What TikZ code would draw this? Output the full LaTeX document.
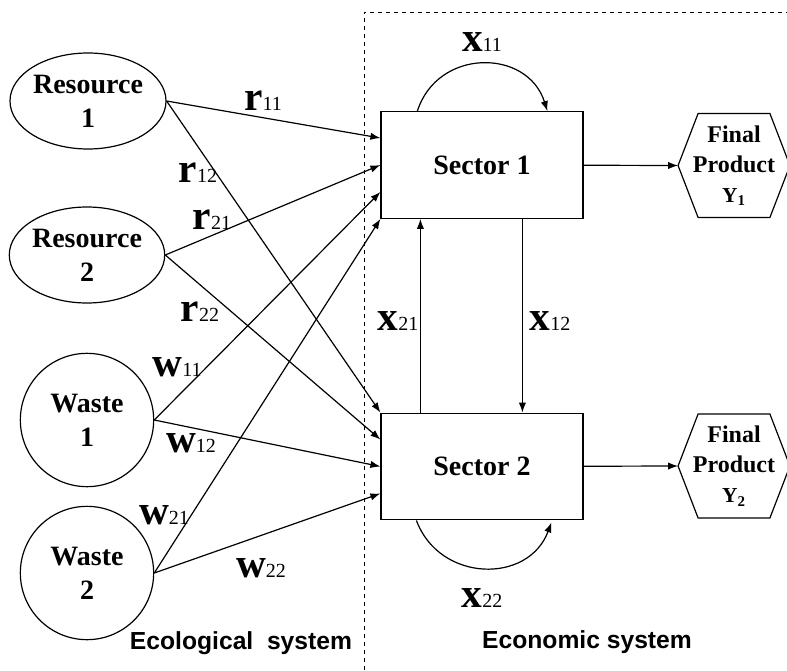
\documentclass[tikz,border=0pt]{standalone}
\usepackage{fontspec}
\setmainfont{Liberation Serif}
\setsansfont{Liberation Sans}
\usetikzlibrary{shapes.geometric,calc,arrows.meta}
\newcommand{\flow}[2]{{\fontsize{31}{31}\selectfont\bfseries #1}{\fontsize{15}{15}\selectfont #2}}

\begin{document}
\begin{tikzpicture}[x=0.75pt,y=-0.75pt,line width=0.9pt]
    \tikzset{>={Latex[length=7.5pt,width=5.5pt]},
      source/.style={draw,align=center,inner sep=0pt,font=\fontsize{21}{25.5}\selectfont\bfseries},
      sector/.style={draw,rectangle,minimum width=151.5pt,minimum height=80pt,font=\fontsize{21}{25}\selectfont\bfseries},
      product/.style={rectangle,minimum width=83pt,minimum height=77pt,inner sep=0pt,align=center,font=\fontsize{18}{22.5}\selectfont\bfseries},
      flowlab/.style={inner sep=0pt},
      sysname/.style={font=\sffamily\bfseries\fontsize{18.5}{18.5}\selectfont}}
    \useasboundingbox (0,0) rectangle (787,670);
    % border of the economic system
    \draw[dashed,line width=0.6pt] (364,670) -- (364,12) -- (787,12);
    % ecological side
    \node[source,ellipse,minimum width=117pt,minimum height=72pt] (res1) at (88,101) {Resource\\1};
    \node[source,ellipse,minimum width=115pt,minimum height=72pt] (res2) at (87,255) {Resource\\2};
    \node[source,circle,minimum size=100pt] (was1) at (87,420) {Waste\\1};
    \node[source,circle,minimum size=100pt] (was2) at (87,573) {Waste\\2};
    % economic side
    \node[sector] (sec1) at (482,165) {Sector 1};
    \node[sector] (sec2) at (482,466.5) {Sector 2};
    \node[product] (fin1) at (734,165.5) {Final\\Product\\{\fontsize{16}{22.5}\selectfont Y\textsubscript{1}}};
    \node[product] (fin2) at (734,466) {Final\\Product\\{\fontsize{16}{22.5}\selectfont Y\textsubscript{2}}};
    \foreach \p in {fin1,fin2}
      \draw (\p.west) -- ([xshift=15pt]\p.north west) -- ([xshift=-15pt]\p.north east)
        -- (\p.east) -- ([xshift=-15pt]\p.south east) -- ([xshift=15pt]\p.south west) -- cycle;
    % inputs to the sectors
    \foreach \src/\tgt/\f in {res1/sec1/0.25, res2/sec1/0.5, was1/sec1/0.75, was2/sec1/1,
                              res1/sec2/0, res2/sec2/0.25, was1/sec2/0.5, was2/sec2/0.75}
      \draw[->] (\src.east) -- ($(\tgt.north west)!\f!(\tgt.south west)$);
    % flows between the sectors
    \draw[->] ($(sec1.north west)+(37,0)$) .. controls +(20,-63) and +(-20,-63) .. ($(sec1.north west)+(167,0)$);
    \draw[->] ($(sec2.south west)+(36,0)$) .. controls +(23,62) and +(-23,62) .. ($(sec2.south west)+(171,2)$);
    \draw[->] ([xshift=30pt]sec2.north west) -- ([xshift=30pt]sec1.south west);
    \draw[->] ([xshift=106.5pt]sec1.south west) -- ([xshift=106.5pt]sec2.north west);
    \draw[->] (sec1) -- (fin1.west);
    \draw[->] (sec2) -- (fin2.west);
    % labels
    \node[flowlab] (r11) at (263,101) {\flow{r}{11}};
    \node[flowlab] (r12) at (198,173) {\flow{r}{12}};
    \node[flowlab] (r21) at (212,220) {\flow{r}{21}};
    \node[flowlab] (r22) at (200,312) {\flow{r}{22}};
    \node[flowlab] (w11) at (177,367) {\flow{w}{11}};
    \node[flowlab] (w12) at (191,443) {\flow{w}{12}};
    \node[flowlab] (w21) at (164,515) {\flow{w}{21}};
    \node[flowlab] (w22) at (261,568) {\flow{w}{22}};
    \node[flowlab] (x11) at (482,42) {\flow{x}{11}};
    \node[flowlab] (x21) at (398,321) {\flow{x}{21}};
    \node[flowlab] (x12) at (550,321) {\flow{x}{12}};
    \node[flowlab] (x22) at (482,598) {\flow{x}{22}};
    \node[sysname] (eco) at (241,643) {Ecological\ \ system};
    \node[sysname] (econ) at (587,642) {Economic system};
\end{tikzpicture}
\end{document}
